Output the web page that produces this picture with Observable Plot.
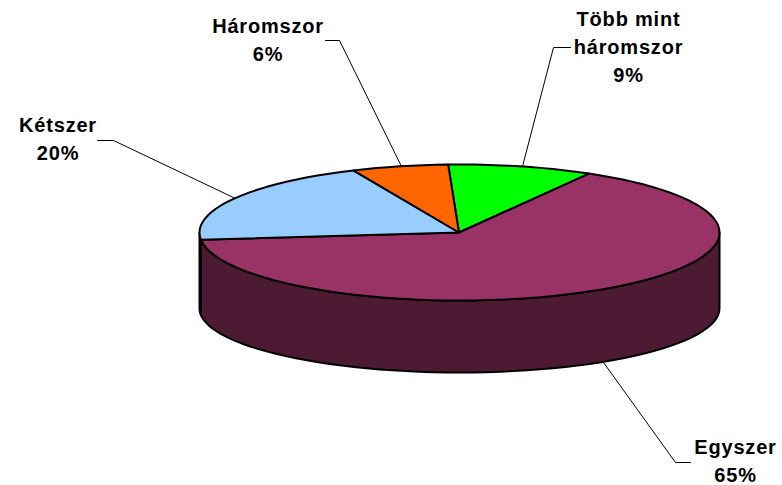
<!DOCTYPE html>
<html><head><meta charset="utf-8">
<script src="https://cdn.jsdelivr.net/npm/d3@7"></script>
<script src="https://cdn.jsdelivr.net/npm/@observablehq/plot@0.6"></script>
<style>html,body{margin:0;padding:0;background:#fff}svg{display:block}</style>
</head><body><div id="chart"></div>
<script>
const categories = ["Több mint háromszor","Egyszer","Kétszer","Háromszor"];
const values = [9,65,20,6];
const topColors = ["#00FF00","#993366","#99CCFF","#FF6600"];
const sideColors = ["#008000","#4C1A33","#4D6680","#803300"];
const labelLines = [["Több mint","háromszor","9%"],["Egyszer","65%"],["Kétszer","20%"],["Háromszor","6%"]];
const labelX = [628,735,57.5,267.5];
const labelY = [19,447,125,26];
const leaders = [
  [[570,47],[553,47],[522,166]],
  [[690,462],[675,462],[603,362]],
  [[97,140],[113,140],[235,198]],
  [[325,40],[339,40],[401,166]]
];
const cx=459, cy=232, rx=260, ry=68, startDeg=-2.5;
const bottomCy=308, bottomRy=64;
const rad=d=>d*Math.PI/180;
const pt=(d,c=cy,r=ry)=>({x:cx+rx*Math.sin(rad(d)),y:c-r*Math.cos(rad(d))});
let acc=startDeg;
const slices=values.map((v,i)=>{const a0=acc;acc+=v*3.6;return {i,a0,a1:acc};});
const arc=(a0,a1,c=cy,r=ry)=>{const n=Math.max(2,Math.ceil((a1-a0)/3));return d3.range(n+1).map(k=>pt(a0+(a1-a0)*k/n,c,r));};
const marks=[];
for(const s of slices){
  for(const w of [0,360]){
    const a0=Math.max(s.a0+w,90),a1=Math.min(s.a1+w,270);
    if(a1>a0){
      const poly=[...arc(a0,a1),...arc(a0,a1,bottomCy,bottomRy).reverse()];
      marks.push(Plot.line(poly,{x:"x",y:"y",fill:sideColors[s.i],stroke:"#000",strokeWidth:2,curve:"linear-closed"}));
    }
  }
}
for(const s of slices){
  const poly=[{x:cx-0.5,y:cy},...arc(s.a0,s.a1)];
  marks.push(Plot.line(poly,{x:"x",y:"y",fill:topColors[s.i],stroke:"#000",strokeWidth:2,curve:"linear-closed"}));
}
leaders.forEach(l=>marks.push(Plot.line(l.map(([x,y])=>({x,y})),{x:"x",y:"y",stroke:"#000",strokeWidth:1})));
const lineStep=28;
const labels=labelLines.flatMap((ls,i)=>ls.map((t,j)=>({t,x:labelX[i],y:labelY[i]+j*lineStep})));
marks.push(Plot.text(labels,{x:"x",y:"y",text:"t",fill:"#000",fontSize:20,fontWeight:"bold",fontFamily:"Liberation Sans",textAnchor:"middle",lineAnchor:"middle"}));
const chart=Plot.plot({width:782,height:485,margin:0,style:{letterSpacing:"0.8px"},x:{axis:null,domain:[0,782]},y:{axis:null,domain:[485,0]},marks});
document.getElementById("chart").append(chart);
</script></body></html>
